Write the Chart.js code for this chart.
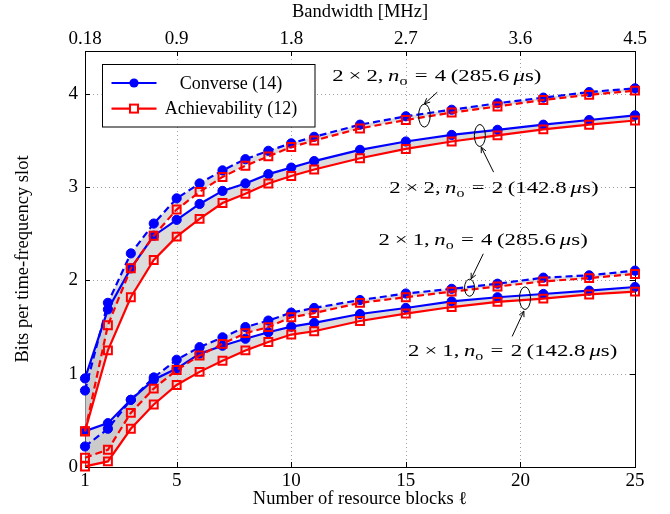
<!DOCTYPE html>
<html><head><meta charset="utf-8">
<script src="https://cdn.jsdelivr.net/npm/chart.js@4.4.0/dist/chart.umd.min.js"></script>
<style>html,body{margin:0;padding:0;background:#fff}#wrap{width:670px;height:514px}</style>
</head><body><div id="wrap"><canvas id="c"></canvas></div>
<script>
// ---- data ----
const blocks = [1,2,3,4,5,6,7,8,9,10,11,13,15,17,19,21,23,25];
const conv22n4 = [0.82,1.76,2.29,2.61,2.88,3.04,3.18,3.30,3.39,3.47,3.54,3.67,3.76,3.83,3.90,3.96,4.02,4.06];
const ach22n4  = [0.38,1.52,2.13,2.48,2.76,2.95,3.11,3.23,3.33,3.43,3.50,3.63,3.72,3.80,3.865,3.935,3.99,4.035];
const conv22n2 = [0.95,1.69,2.13,2.48,2.65,2.82,2.96,3.04,3.14,3.21,3.28,3.40,3.49,3.56,3.615,3.67,3.72,3.77];
const ach22n2  = [0.385,1.25,1.82,2.22,2.47,2.66,2.83,2.93,3.04,3.12,3.19,3.31,3.41,3.49,3.555,3.62,3.67,3.715];
const conv21n4 = [0.22,0.41,0.72,0.96,1.15,1.285,1.39,1.50,1.57,1.655,1.705,1.79,1.86,1.91,1.965,2.03,2.055,2.105];
const ach21n4  = [0.10,0.185,0.58,0.84,1.04,1.195,1.32,1.435,1.50,1.605,1.65,1.76,1.82,1.88,1.935,1.99,2.025,2.07];
const conv21n2 = [0.385,0.47,0.72,0.935,1.055,1.215,1.30,1.375,1.445,1.505,1.545,1.64,1.705,1.775,1.82,1.855,1.89,1.93];
const ach21n2  = [0.006,0.06,0.41,0.67,0.88,1.02,1.14,1.25,1.34,1.42,1.455,1.565,1.645,1.715,1.77,1.805,1.85,1.88];

const xTickValues = [1,5,10,15,20,25];
const bandwidthLabels = ['0.18','0.9','1.8','2.7','3.6','4.5'];
const yTickValues = [0,1,2,3,4];
const legendLabels = ['Converse (14)','Achievability (12)'];

// annotation texts (runs with TeX-like spacing in em) and anchors in data units
function annoRuns(a, b, c){
  return [{t:'2'},{g:.222},{t:'×'},{g:.222},{t:a+','},{g:.2},{t:'n',it:1},{t:'o',sub:1},{g:.32},{t:'='},{g:.32},
          {t:b},{g:.2},{t:'('+c},{g:.18},{t:'μ',it:1},{t:'s)'}];
}
const annoTexts = [annoRuns('2','4','285.6'), annoRuns('2','2','142.8'), annoRuns('1','4','285.6'), annoRuns('1','2','142.8')];
const annoTextAt = [[16.35,4.197],[18.84,3.0],[18.37,2.447],[19.66,1.25]];
const ellipseAt = [[15.81,3.768],[18.23,3.554],[17.78,1.922],[20.2,1.81]];
const arrowFrom = [[16.37,4.018],[18.83,3.161],[18.38,2.286],[19.64,1.40]];
const arrowTo   = [[15.81,3.894],[18.29,3.429],[17.85,2.018],[20.15,1.671]];

const FAM = '"Liberation Serif", "Times New Roman", serif';
const FS = 18.5, TFS = 19, AFS = 17.5, LFS = 18;
const BLUE = '#0000ff', RED = '#ff0000', BAND = 'rgba(185,185,185,0.5)';

const pts = arr => blocks.map((b,i)=>({x:b, y:arr[i]}));
function conv(arr, dashed){
  return {data:pts(arr), borderColor:BLUE, backgroundColor:BLUE, borderWidth:2.2,
    borderDash: dashed?[7,4]:[], pointStyle:'circle', pointRadius:4.6, pointBorderWidth:1,
    pointBackgroundColor:BLUE, pointBorderColor:BLUE, fill:false, tension:0, clip:false, order:1};
}
function ach(arr, dashed, target){
  return {data:pts(arr), borderColor:RED, backgroundColor:BAND, borderWidth:2.2,
    borderDash: dashed?[7,4]:[], pointStyle:'rect', pointRadius:5.6, pointBorderWidth:2,
    pointBackgroundColor:'rgba(0,0,0,0)', pointBorderColor:RED, fill:target, tension:0, clip:false, order:0};
}

const datasets = [
  conv(conv22n4,true), ach(ach22n4,true,0),
  conv(conv22n2,false), ach(ach22n2,false,2),
  conv(conv21n4,true), ach(ach21n4,true,4),
  conv(conv21n2,false), ach(ach21n2,false,6)
];

function richText(ctx, cx, cy, parts, size, sx){
  let total=0;
  const ms = parts.map(p=>{
    if(p.g!==undefined){ const w=p.g*size; total+=w; return {w}; }
    const f=(p.it?'italic ':'')+(p.sub?size*0.7:size)+'px '+FAM;
    ctx.font=f; const w=ctx.measureText(p.t).width; total+=w; return {f,w};
  });
  ctx.save();
  ctx.translate(cx,cy); ctx.scale(sx,1);
  let x=-total/2;
  ctx.textBaseline='alphabetic'; ctx.textAlign='left'; ctx.fillStyle='#000';
  parts.forEach((p,i)=>{
    if(p.t!==undefined){ ctx.font=ms[i].f; ctx.fillText(p.t,x,size*0.34+(p.sub?size*0.22:0)); }
    x+=ms[i].w;
  });
  ctx.restore();
}

const framePlugin = {
  id:'frame',
  beforeDraw(chart){
    const {ctx, chartArea:a, scales:{x,y}} = chart;
    ctx.save();
    ctx.fillStyle='#fff'; ctx.fillRect(0,0,chart.width,chart.height);
    ctx.strokeStyle='#a0a0a0'; ctx.lineWidth=1; ctx.setLineDash([1,3]);
    xTickValues.forEach(v=>{ if(v===x.min||v===x.max) return; const px=Math.round(x.getPixelForValue(v))+0.5;
      ctx.beginPath(); ctx.moveTo(px,a.top); ctx.lineTo(px,a.bottom); ctx.stroke(); });
    yTickValues.forEach(v=>{ if(v===y.min) return; const py=Math.round(y.getPixelForValue(v))+0.5;
      ctx.beginPath(); ctx.moveTo(a.left,py); ctx.lineTo(a.right,py); ctx.stroke(); });
    ctx.setLineDash([]);
    ctx.strokeStyle='#000'; ctx.lineWidth=1;
    ctx.strokeRect(Math.round(a.left)+0.5,Math.round(a.top)+0.5,Math.round(a.right-a.left),Math.round(a.bottom-a.top));
    const tl=5;
    xTickValues.forEach(v=>{ if(v===x.min||v===x.max) return; const px=Math.round(x.getPixelForValue(v))+0.5;
      ctx.beginPath(); ctx.moveTo(px,a.bottom); ctx.lineTo(px,a.bottom-tl); ctx.moveTo(px,a.top); ctx.lineTo(px,a.top+tl); ctx.stroke(); });
    yTickValues.forEach(v=>{ if(v===y.min) return; const py=Math.round(y.getPixelForValue(v))+0.5;
      ctx.beginPath(); ctx.moveTo(a.left,py); ctx.lineTo(a.left+tl,py); ctx.moveTo(a.right,py); ctx.lineTo(a.right-tl,py); ctx.stroke(); });
    ctx.restore();
  },
  afterDraw(chart){
    const {ctx, chartArea:a, scales:{x,y}} = chart;
    ctx.save();
    // legend
    const lx=a.left+16.5, ly=a.top+12.6, lw=212.5, lh=62.5;
    ctx.fillStyle='#fff'; ctx.fillRect(lx,ly,lw,lh);
    ctx.strokeStyle='#000'; ctx.lineWidth=1; ctx.strokeRect(Math.round(lx)+0.5,Math.round(ly)+0.5,lw,lh);
    const rows=[ly+19.4, ly+45];
    const sx0=lx+10, sx1=lx+55, sc=(sx0+sx1)/2;
    [0,1].forEach(i=>{
      const d=datasets[i];
      ctx.strokeStyle=d.borderColor; ctx.lineWidth=2.2; ctx.setLineDash([]);
      ctx.beginPath(); ctx.moveTo(sx0,rows[i]); ctx.lineTo(sx1,rows[i]); ctx.stroke();
      if(i===0){ ctx.fillStyle=BLUE; ctx.beginPath(); ctx.arc(sc,rows[i],4.6,0,Math.PI*2); ctx.fill(); }
      else { ctx.fillStyle='#fff'; ctx.lineWidth=2; ctx.fillRect(sc-4,rows[i]-4,8,8); ctx.strokeRect(sc-4,rows[i]-4,8,8); }
      ctx.fillStyle='#000'; ctx.font=LFS+'px '+FAM; ctx.textAlign='center'; ctx.textBaseline='middle';
      ctx.fillText(legendLabels[i], lx+129.5, rows[i]+1);
    });
    // annotations
    ctx.strokeStyle='#000'; ctx.lineWidth=1;
    const ell=[[5.8,11.5],[5.5,11],[5,8.5],[5.5,11.3]];
    ellipseAt.forEach((e,i)=>{
      ctx.beginPath(); ctx.ellipse(x.getPixelForValue(e[0]),y.getPixelForValue(e[1]),ell[i][0],ell[i][1],0,0,Math.PI*2); ctx.stroke();
    });
    arrowFrom.forEach((f,i)=>{
      const x0=x.getPixelForValue(f[0]), y0=y.getPixelForValue(f[1]);
      const x1=x.getPixelForValue(arrowTo[i][0]), y1=y.getPixelForValue(arrowTo[i][1]);
      ctx.beginPath(); ctx.moveTo(x0,y0); ctx.lineTo(x1,y1); ctx.stroke();
      const ang=Math.atan2(y1-y0,x1-x0), L=6;
      ctx.beginPath();
      ctx.moveTo(x1-L*Math.cos(ang-0.45),y1-L*Math.sin(ang-0.45));
      ctx.lineTo(x1,y1);
      ctx.lineTo(x1-L*Math.cos(ang+0.45),y1-L*Math.sin(ang+0.45));
      ctx.stroke();
    });
    annoTexts.forEach((r,i)=>richText(ctx,x.getPixelForValue(annoTextAt[i][0]),y.getPixelForValue(annoTextAt[i][1]),r,AFS,1.3));
    ctx.restore();
  }
};

const tickFont = {family:FAM, size:TFS};
const titleFont = {family:FAM, size:FS};
new Chart(document.getElementById('c'), {
  type:'line',
  data:{datasets},
  plugins:[framePlugin],
  options:{
    responsive:true, maintainAspectRatio:false, animation:false, devicePixelRatio:1,
    layout:{padding:{right:35,left:0,top:0,bottom:0}},
    plugins:{legend:{display:false}, tooltip:{enabled:false}, filler:{drawTime:'beforeDatasetsDraw', propagate:false}},
    scales:{
      x:{type:'linear', position:'bottom', min:1, max:25,
        afterBuildTicks:s=>{s.ticks=xTickValues.map(v=>({value:v}));},
        afterFit:s=>{s.height=47;},
        grid:{display:false, drawTicks:false}, border:{display:false},
        ticks:{font:tickFont, color:'#000', padding:3, maxRotation:0, autoSkip:false},
        title:{display:true, text:'Number of resource blocks ℓ', font:titleFont, color:'#000', padding:{top:0,bottom:4}}},
      x2:{type:'linear', position:'top', min:1, max:25,
        afterBuildTicks:s=>{s.ticks=xTickValues.map(v=>({value:v}));},
        afterFit:s=>{s.height=51;},
        grid:{display:false, drawTicks:false}, border:{display:false},
        ticks:{font:tickFont, color:'#000', padding:1, maxRotation:0, autoSkip:false, callback:(v,i)=>bandwidthLabels[i]},
        title:{display:true, text:'Bandwidth [MHz]', font:titleFont, color:'#000', padding:{top:1,bottom:0}}},
      y:{type:'linear', position:'left', min:0, max:4.46,
        afterBuildTicks:s=>{s.ticks=yTickValues.map(v=>({value:v}));},
        afterFit:s=>{s.width=85;},
        grid:{display:false, drawTicks:false}, border:{display:false},
        ticks:{font:tickFont, color:'#000', padding:7},
        title:{display:true, text:'Bits per time-frequency slot', font:titleFont, color:'#000', padding:{top:12,bottom:0}}}
    }
  }
});
</script>
</body></html>
